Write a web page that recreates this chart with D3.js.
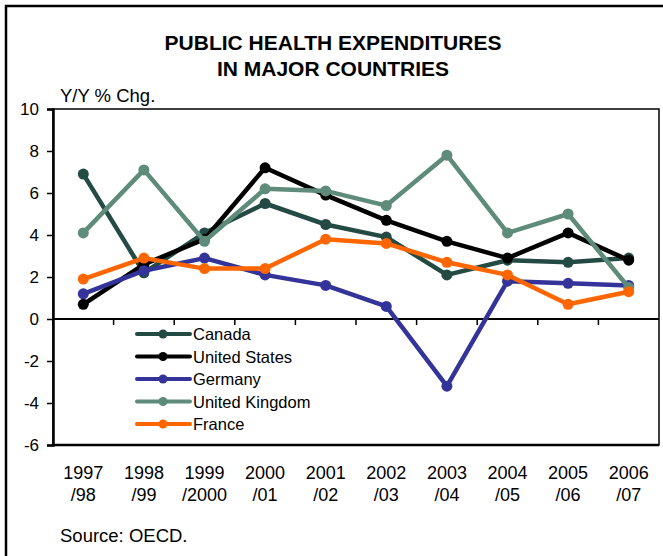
<!DOCTYPE html>
<html>
<head>
<meta charset="utf-8">
<script src="https://cdn.jsdelivr.net/npm/d3@7"></script>
<style>
  body { margin: 0; background: #fff; }
  text { font-family: "Liberation Sans", Arial, sans-serif; }
</style>
</head>
<body>
<div id="chart"></div>
<script>
// data
const years = ["1997/98", "1998/99", "1999/2000", "2000/01", "2001/02", "2002/03", "2003/04", "2004/05", "2005/06", "2006/07"];
const canada  = [6.9, 2.2, 4.1, 5.5, 4.5, 3.9, 2.1, 2.8, 2.7, 2.9];
const usa     = [0.7, 2.6, 3.8, 7.2, 5.9, 4.7, 3.7, 2.9, 4.1, 2.8];
const germany = [1.2, 2.3, 2.9, 2.1, 1.6, 0.6, -3.2, 1.8, 1.7, 1.6];
const uk      = [4.1, 7.1, 3.7, 6.2, 6.1, 5.4, 7.8, 4.1, 5.0, 1.5];
const france  = [1.9, 2.9, 2.4, 2.4, 3.8, 3.6, 2.7, 2.1, 0.7, 1.3];
const yTicks = [-6, -4, -2, 0, 2, 4, 6, 8, 10];

const series = [
  {name: "Canada", values: canada, color: "#244a44"},
  {name: "United States", values: usa, color: "#000000"},
  {name: "Germany", values: germany, color: "#333399"},
  {name: "United Kingdom", values: uk, color: "#5e8b7a"},
  {name: "France", values: france, color: "#ff6600"}
];

const W = 663, H = 556;
const plot = {left: 53, right: 659, top: 109, bottom: 445};

const svg = d3.select("#chart").append("svg")
    .attr("width", W)
    .attr("height", H);

// outer frame (runs off the right and bottom edges)
svg.append("rect")
    .attr("x", 6).attr("y", 6)
    .attr("width", W + 20).attr("height", H + 20)
    .attr("fill", "none")
    .attr("stroke", "#000")
    .attr("stroke-width", 2.5);

const x = d3.scaleBand()
    .domain(years)
    .range([plot.left, plot.right])
    .padding(0);

const y = d3.scaleLinear()
    .domain([-6, 10])
    .range([plot.bottom, plot.top]);

// plot box
svg.append("rect")
    .attr("x", plot.left).attr("y", plot.top)
    .attr("width", plot.right - plot.left)
    .attr("height", plot.bottom - plot.top)
    .attr("fill", "none")
    .attr("stroke", "#000")
    .attr("stroke-width", 1.5);

// y axis (plain hyphen for negatives, like the original)
const yAxis = svg.append("g")
    .attr("transform", `translate(${plot.left},0)`)
    .call(d3.axisLeft(y).tickValues(yTicks).tickSize(6).tickPadding(8).tickFormat(d => String(d)));
yAxis.select(".domain").attr("stroke-width", 2.5);
yAxis.selectAll(".tick line").attr("stroke-width", 1.5);
yAxis.selectAll("text")
    .attr("font-size", "17px")
    .attr("fill", "#000")
    .style("font-family", "'Liberation Sans', Arial, sans-serif");

// zero line with category ticks
svg.append("line")
    .attr("x1", plot.left).attr("x2", plot.right)
    .attr("y1", y(0)).attr("y2", y(0))
    .attr("stroke", "#000")
    .attr("stroke-width", 2);

svg.selectAll("line.xtick")
  .data(years)
  .join("line")
    .attr("class", "xtick")
    .attr("x1", d => x(d)).attr("x2", d => x(d))
    .attr("y1", y(0)).attr("y2", y(0) + 6)
    .attr("stroke", "#000")
    .attr("stroke-width", 1.5);

// bottom line at -6
svg.append("line")
    .attr("x1", plot.left).attr("x2", plot.right)
    .attr("y1", y(-6)).attr("y2", y(-6))
    .attr("stroke", "#000")
    .attr("stroke-width", 2.5);

// category labels, two lines each
const xLabels = svg.selectAll("text.xlab")
  .data(years)
  .join("text")
    .attr("class", "xlab")
    .attr("text-anchor", "middle")
    .attr("font-size", "18px")
    .attr("fill", "#000");
xLabels.append("tspan")
    .attr("x", d => x(d) + x.bandwidth() / 2)
    .attr("y", 479)
    .text(d => d.split("/")[0]);
xLabels.append("tspan")
    .attr("x", d => x(d) + x.bandwidth() / 2)
    .attr("y", 501)
    .text(d => "/" + d.split("/")[1]);

// lines + markers
const line = d3.line()
    .x((d, i) => x(years[i]) + x.bandwidth() / 2)
    .y(d => y(d));

series.forEach(s => {
  svg.append("path")
      .datum(s.values)
      .attr("fill", "none")
      .attr("stroke", s.color)
      .attr("stroke-width", 4.5)
      .attr("stroke-linejoin", "round")
      .attr("d", line);
  svg.selectAll(null)
    .data(s.values)
    .join("circle")
      .attr("cx", (d, i) => x(years[i]) + x.bandwidth() / 2)
      .attr("cy", d => y(d))
      .attr("r", 5.5)
      .attr("fill", s.color);
});

// legend
const legend = svg.append("g")
    .attr("transform", "translate(137,334)");
const rows = legend.selectAll("g")
  .data(series)
  .join("g")
    .attr("transform", (d, i) => `translate(0,${i * 22.5})`);
rows.append("line")
    .attr("x1", 0).attr("x2", 53)
    .attr("stroke", d => d.color)
    .attr("stroke-width", 4)
    .attr("stroke-linecap", "round");
rows.append("circle")
    .attr("cx", 26).attr("r", 4.5)
    .attr("fill", d => d.color);
rows.append("text")
    .attr("x", 56)
    .attr("y", 6)
    .attr("font-size", "16.5px")
    .attr("fill", "#000")
    .text(d => d.name);

// titles
svg.append("text")
    .attr("x", 333).attr("y", 50)
    .attr("text-anchor", "middle")
    .attr("font-size", "21px")
    .attr("font-weight", "bold")
    .text("PUBLIC HEALTH EXPENDITURES");
svg.append("text")
    .attr("x", 333).attr("y", 76)
    .attr("text-anchor", "middle")
    .attr("font-size", "21px")
    .attr("font-weight", "bold")
    .text("IN MAJOR COUNTRIES");

svg.append("text")
    .attr("x", 60).attr("y", 102)
    .attr("font-size", "18.5px")
    .text("Y/Y % Chg.");

svg.append("text")
    .attr("x", 60).attr("y", 542)
    .attr("font-size", "18.5px")
    .text("Source: OECD.");
</script>
</body>
</html>
